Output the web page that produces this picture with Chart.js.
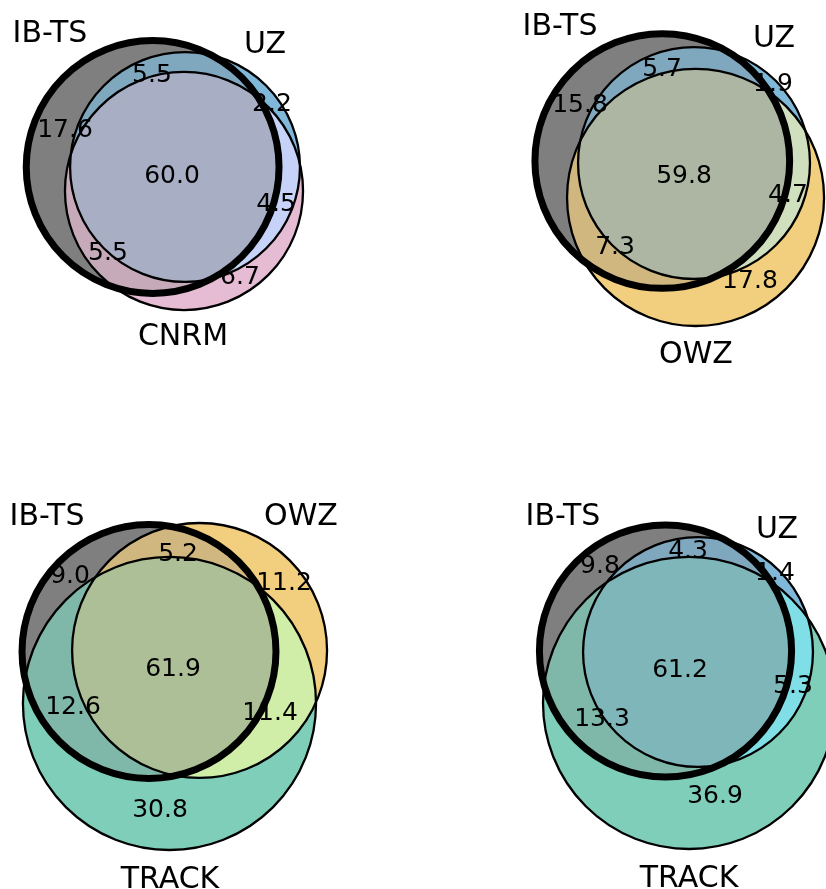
<!DOCTYPE html>
<html>
<head>
<meta charset="utf-8">
<script src="https://cdn.jsdelivr.net/npm/chart.js@4.4.1/dist/chart.umd.min.js"></script>
<style>
  html, body { margin: 0; padding: 0; background: #ffffff; }
  #wrap { position: relative; width: 826px; height: 889px; overflow: hidden; background: #ffffff; }
  #wrap canvas { position: absolute; }
</style>
</head>
<body>
<div id="wrap">
  <canvas id="p1" width="413" height="444" style="left:0px;top:0px"></canvas>
  <canvas id="p2" width="413" height="444" style="left:413px;top:0px"></canvas>
  <canvas id="p3" width="413" height="444" style="left:0px;top:445px"></canvas>
  <canvas id="p4" width="413" height="444" style="left:413px;top:445px"></canvas>
</div>
<script>
// Region order (matplotlib-venn convention): A only, B only, A&B, C only, A&C, B&C, A&B&C
const regionIds = ['100', '010', '110', '001', '101', '011', '111'];

// Set names of each diagram
const setsUzCnrm   = ['IB-TS', 'UZ', 'CNRM'];
const setsUzOwz    = ['IB-TS', 'UZ', 'OWZ'];
const setsOwzTrack = ['IB-TS', 'OWZ', 'TRACK'];
const setsUzTrack  = ['IB-TS', 'UZ', 'TRACK'];

// Percentages per region, in regionIds order
const valuesUzCnrm   = [17.6, 2.2, 5.5, 6.7, 5.5, 4.5, 60.0];
const valuesUzOwz    = [15.8, 1.9, 5.7, 17.8, 7.3, 4.7, 59.8];
const valuesOwzTrack = [9.0, 11.2, 5.2, 30.8, 12.6, 11.4, 61.9];
const valuesUzTrack  = [9.8, 1.4, 4.3, 36.9, 13.3, 5.3, 61.2];

// Set colours and patch transparency
const SET_COLORS = {
  'IB-TS': '#000000',
  'UZ': '#0072B2',
  'CNRM': '#CC79A7',
  'OWZ': '#E69F00',
  'TRACK': '#009E73'
};
const PATCH_ALPHA = 0.5;

// Diagram layouts in venn coordinates: circles [cx, cy, r], label anchors, axis limits
const layouts = [
  {
    canvas: 'p1', sets: setsUzCnrm, values: valuesUzCnrm,
    xlim: [-1.1875, 2.0391], ylim: [-2.1641, 1.3047],
    circles: [[0.005, 0, 0.9875], [0.258, 0.0, 0.898], [0.25, -0.1875, 0.93]],
    setLabelAt: [[-0.797, 1.0625], [0.883, 0.977], [0.242, -1.305]],
    valueAt: [[-0.680, 0.305], [0.9375, 0.508], [0.0, 0.734], [0.6875, -0.844],
              [-0.344, -0.656], [0.969, -0.273], [0.156, -0.055]]
  },
  {
    canvas: 'p2', sets: setsUzOwz, values: valuesUzOwz,
    xlim: [-1.9375, 1.2891], ylim: [-2.2109, 1.2578],
    circles: [[0.010, 0, 0.995], [0.258, -0.016, 0.906], [0.270, -0.285, 1.004]],
    setLabelAt: [[-0.789, 1.070], [0.883, 0.977], [0.273, -1.492]],
    valueAt: [[-0.633, 0.453], [0.875, 0.617], [0.008, 0.734], [0.695, -0.922],
              [-0.359, -0.656], [0.992, -0.25], [0.180, -0.102]]
  },
  {
    canvas: 'p3', sets: setsOwzTrack, values: valuesOwzTrack,
    xlim: [-1.1641, 2.0625], ylim: [-1.8555, 1.6133],
    circles: [[0, 0, 0.992], [0.395, 0.008, 0.996], [0.160, -0.406, 1.145]],
    setLabelAt: [[-0.797, 1.074], [1.1875, 1.074], [0.164, -1.762]],
    valueAt: [[-0.617, 0.605], [1.055, 0.551], [0.227, 0.777], [0.086, -1.223],
              [-0.594, -0.418], [0.945, -0.465], [0.1875, -0.121]]
  },
  {
    canvas: 'p4', sets: setsUzTrack, values: valuesUzTrack,
    xlim: [-1.9727, 1.2539], ylim: [-1.8594, 1.6094],
    circles: [[0, 0, 0.985], [0.254, -0.008, 0.898], [0.184, -0.406, 1.141]],
    setLabelAt: [[-0.801, 1.070], [0.871, 0.969], [0.184, -1.758]],
    valueAt: [[-0.512, 0.680], [0.855, 0.625], [0.176, 0.797], [0.387, -1.117],
              [-0.496, -0.516], [0.996, -0.258], [0.113, -0.133]]
  }
];

const SET_FONT_PX = 30;
const VALUE_FONT_PX = 25;
const CAP_HEIGHT = 0.729; // DejaVu Sans cap/digit height in em
const OUTLINE_WIDTHS = [7, 2.3, 2.3];

function hexToRgb(hex) {
  return [1, 3, 5].map(i => parseInt(hex.substr(i, 2), 16) / 255);
}

// matplotlib-venn colour mixing: 0.7*(a+b) for pairs, 0.4*(a+b+c) for triples
function mixColors(cols) {
  const k = cols.length === 1 ? 1 : (cols.length === 2 ? 0.7 : 0.4);
  return [0, 1, 2].map(j => Math.min(1, k * cols.reduce((s, c) => s + c[j], 0)));
}

function regionColor(sets, id) {
  const cols = [];
  for (let i = 0; i < 3; i++) if (id[i] === '1') cols.push(hexToRgb(SET_COLORS[sets[i]]));
  const m = mixColors(cols).map(v => Math.round(v * 255));
  return `rgba(${m[0]},${m[1]},${m[2]},${PATCH_ALPHA})`;
}

// Circle [cx, cy, r] in axis units -> pixels via the chart scales
function circlePx(chart, c) {
  const xs = chart.scales.x, ys = chart.scales.y;
  const px = xs.getPixelForValue(c[0]);
  const py = ys.getPixelForValue(c[1]);
  const pr = Math.abs(xs.getPixelForValue(c[0] + c[2]) - px);
  return [px, py, pr];
}

function makeChart(L) {
  // Region patches, each clipped to its inside/outside combination of circles
  const regionPlugin = {
    id: 'vennRegions',
    beforeDatasetsDraw(chart) {
      const ctx = chart.ctx;
      const W = chart.width, H = chart.height;
      const pc = L.circles.map(c => circlePx(chart, c));
      regionIds.forEach(id => {
        ctx.save();
        for (let i = 0; i < 3; i++) {
          const [x, y, r] = pc[i];
          ctx.beginPath();
          if (id[i] === '1') {
            ctx.arc(x, y, r, 0, Math.PI * 2);
            ctx.clip();
          } else {
            ctx.rect(-10, -10, W + 20, H + 20);
            ctx.arc(x, y, r, 0, Math.PI * 2);
            ctx.clip('evenodd');
          }
        }
        ctx.fillStyle = regionColor(L.sets, id);
        ctx.fillRect(0, 0, W, H);
        ctx.restore();
      });
    }
  };

  // Set names and region percentages, centred on their anchors
  const labelPlugin = {
    id: 'vennLabels',
    afterDatasetsDraw(chart) {
      const ctx = chart.ctx;
      const xs = chart.scales.x, ys = chart.scales.y;
      ctx.save();
      ctx.fillStyle = '#000000';
      ctx.textAlign = 'center';
      ctx.textBaseline = 'alphabetic';
      ctx.font = SET_FONT_PX + 'px "DejaVu Sans"';
      L.sets.forEach((name, i) => {
        const p = L.setLabelAt[i];
        ctx.fillText(name, xs.getPixelForValue(p[0]),
                     ys.getPixelForValue(p[1]) + SET_FONT_PX * CAP_HEIGHT / 2);
      });
      ctx.font = VALUE_FONT_PX + 'px "DejaVu Sans"';
      L.values.forEach((v, k) => {
        const p = L.valueAt[k];
        ctx.fillText(v.toFixed(1), xs.getPixelForValue(p[0]),
                     ys.getPixelForValue(p[1]) + VALUE_FONT_PX * CAP_HEIGHT / 2);
      });
      ctx.restore();
    }
  };

  const chart = new Chart(document.getElementById(L.canvas), {
    type: 'bubble',
    data: {
      datasets: L.circles.map((c, i) => ({
        label: L.sets[i],
        data: [{ x: c[0], y: c[1], rad: c[2] }],
        backgroundColor: 'rgba(0,0,0,0)',
        borderColor: '#000000',
        borderWidth: OUTLINE_WIDTHS[i],
        clip: false,
        order: 2 - i
      }))
    },
    options: {
      responsive: false,
      animation: false,
      events: [],
      layout: { padding: 0, autoPadding: false },
      plugins: { legend: { display: false }, tooltip: { enabled: false } },
      scales: {
        x: { type: 'linear', display: false, min: L.xlim[0], max: L.xlim[1] },
        y: { type: 'linear', display: false, min: L.ylim[0], max: L.ylim[1] }
      }
    },
    plugins: [regionPlugin, labelPlugin]
  });

  // Bubble radius in pixels, converted from the circle radius in axis units
  chart.data.datasets.forEach(ds => ds.data.forEach(pt => {
    pt.r = circlePx(chart, [pt.x, pt.y, pt.rad])[2];
  }));
  chart.update('none');
  return chart;
}

layouts.forEach(makeChart);
</script>
</body>
</html>
